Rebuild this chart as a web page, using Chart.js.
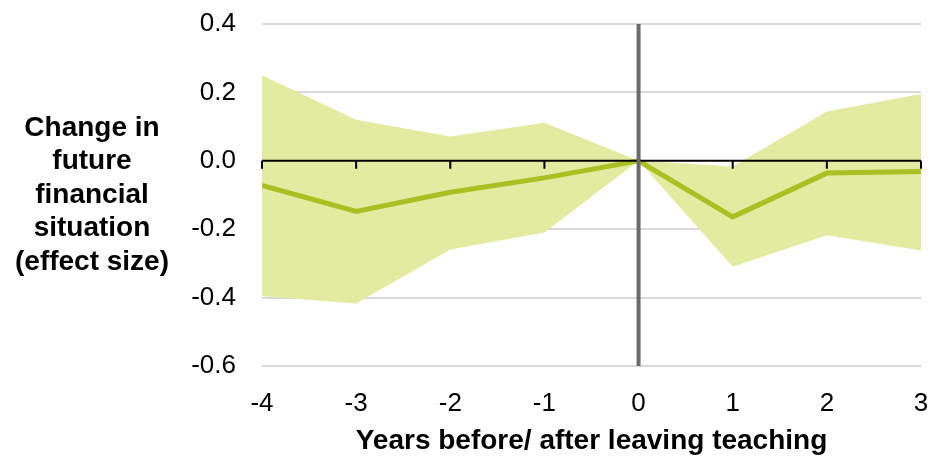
<!doctype html>
<html>

<head>
    <title>Change in future financial situation</title>
    <script src="https://cdn.jsdelivr.net/npm/chart.js@4/dist/chart.umd.min.js"></script>
    <style>
    html, body { margin: 0; padding: 0; background: #fff; }
    #wrap { width: 933px; height: 460px; position: relative; }
    </style>
</head>

<body>
    <div id="wrap">
        <canvas id="myChart"></canvas>
    </div>
    <script>
    // data
    var years = [-4, -3, -2, -1, 0, 1, 2, 3];
    var effect = [-0.072, -0.148, -0.092, -0.050, 0, -0.164, -0.036, -0.031];
    var upperCI = [0.250, 0.120, 0.071, 0.111, 0, -0.017, 0.144, 0.195];
    var lowerCI = [-0.396, -0.417, -0.259, -0.210, 0, -0.310, -0.218, -0.262];
    var yTicks = [-0.6, -0.4, -0.2, 0.0, 0.2, 0.4];
    var yTitleLines = ["Change in", "future", "financial", "situation", "(effect size)"];
    var xTitle = "Years before/ after leaving teaching";

    var FONT = "'Liberation Sans', Arial, sans-serif";

    function pts(vals) {
        return years.map(function (x, i) { return { x: x, y: vals[i] }; });
    }

    // black zero line with ticks, grey line at year 0, and the y title
    var axesPlugin = {
        id: 'axesPlugin',
        afterDatasetsDraw: function (chart) {
            var ctx = chart.ctx, xs = chart.scales.x, ys = chart.scales.y;
            var y0 = ys.getPixelForValue(0);
            ctx.save();
            ctx.strokeStyle = '#000';
            ctx.lineWidth = 2;
            ctx.beginPath();
            ctx.moveTo(xs.getPixelForValue(years[0]), y0);
            ctx.lineTo(xs.getPixelForValue(years[years.length - 1]), y0);
            years.forEach(function (yr) {
                var px = xs.getPixelForValue(yr);
                ctx.moveTo(px, y0);
                ctx.lineTo(px, y0 + 8);
            });
            ctx.stroke();
            var x0 = xs.getPixelForValue(0);
            ctx.strokeStyle = '#6b6b6d';
            ctx.lineWidth = 4;
            ctx.beginPath();
            ctx.moveTo(x0, chart.chartArea.top);
            ctx.lineTo(x0, chart.chartArea.bottom);
            ctx.stroke();
            ctx.restore();
        },
        afterDraw: function (chart) {
            var ctx = chart.ctx;
            var area = chart.chartArea;
            var mid = (area.top + area.bottom) / 2;
            var lh = 33.5;
            ctx.save();
            ctx.fillStyle = '#000';
            ctx.font = "bold 28px " + FONT;
            ctx.textAlign = 'center';
            ctx.textBaseline = 'middle';
            yTitleLines.forEach(function (t, i) {
                ctx.fillText(t, 92, mid + (i - (yTitleLines.length - 1) / 2) * lh);
            });
            ctx.restore();
        }
    };

    function drawGraph() {
        var ctx = document.getElementById('myChart').getContext('2d');
        var chart = new Chart(ctx, {
            type: 'line',
            data: {
                datasets: [{
                    label: 'upper',
                    data: pts(upperCI),
                    order: 1,
                    borderWidth: 0,
                    borderColor: 'rgba(0,0,0,0)',
                    backgroundColor: '#e2eb9f',
                    pointRadius: 0,
                    fill: '+1',
                    tension: 0
                }, {
                    label: 'lower',
                    data: pts(lowerCI),
                    order: 1,
                    borderWidth: 0,
                    borderColor: 'rgba(0,0,0,0)',
                    pointRadius: 0,
                    fill: false,
                    tension: 0
                }, {
                    label: 'effect',
                    data: pts(effect),
                    order: 0,
                    borderColor: '#a9bf22',
                    borderWidth: 5,
                    pointRadius: 0,
                    fill: false,
                    tension: 0
                }]
            },
            options: {
                responsive: true,
                maintainAspectRatio: false,
                animation: false,
                events: [],
                layout: { padding: { top: 24, right: 12, left: 0, bottom: 0 } },
                plugins: {
                    legend: { display: false },
                    tooltip: { enabled: false }
                },
                scales: {
                    x: {
                        type: 'linear',
                        min: years[0],
                        max: years[years.length - 1],
                        border: { display: false },
                        grid: { display: false, drawTicks: false },
                        ticks: {
                            stepSize: 1,
                            padding: 22,
                            color: '#000',
                            font: { family: FONT, size: 26 },
                            maxRotation: 0
                        },
                        title: {
                            display: true,
                            text: xTitle,
                            color: '#000',
                            font: { family: FONT, size: 28, weight: 'bold' },
                            padding: { top: 2, bottom: 2 }
                        },
                        afterFit: function (scale) {
                            scale.height = 94;
                            scale.paddingLeft = 0;
                            scale.paddingRight = 0;
                        }
                    },
                    y: {
                        min: yTicks[0],
                        max: yTicks[yTicks.length - 1],
                        border: { display: false },
                        afterBuildTicks: function (scale) {
                            scale.ticks = yTicks.map(function (v) { return { value: v }; });
                        },
                        grid: {
                            drawTicks: false,
                            lineWidth: 2,
                            color: function (c) {
                                return c.tick && c.tick.value === 0 ? 'rgba(0,0,0,0)' : '#d9d9d9';
                            }
                        },
                        ticks: {
                            padding: 26,
                            color: '#000',
                            font: { family: FONT, size: 26 },
                            callback: function (v) { return (Math.round(v * 10) / 10).toFixed(1); }
                        },
                        afterFit: function (scale) {
                            scale.width = 262;
                            scale.paddingTop = 0;
                            scale.paddingBottom = 0;
                        }
                    }
                }
            },
            plugins: [axesPlugin]
        });
    }

    window.onload = function () {
        drawGraph();
    };
    </script>
</body>

</html>
